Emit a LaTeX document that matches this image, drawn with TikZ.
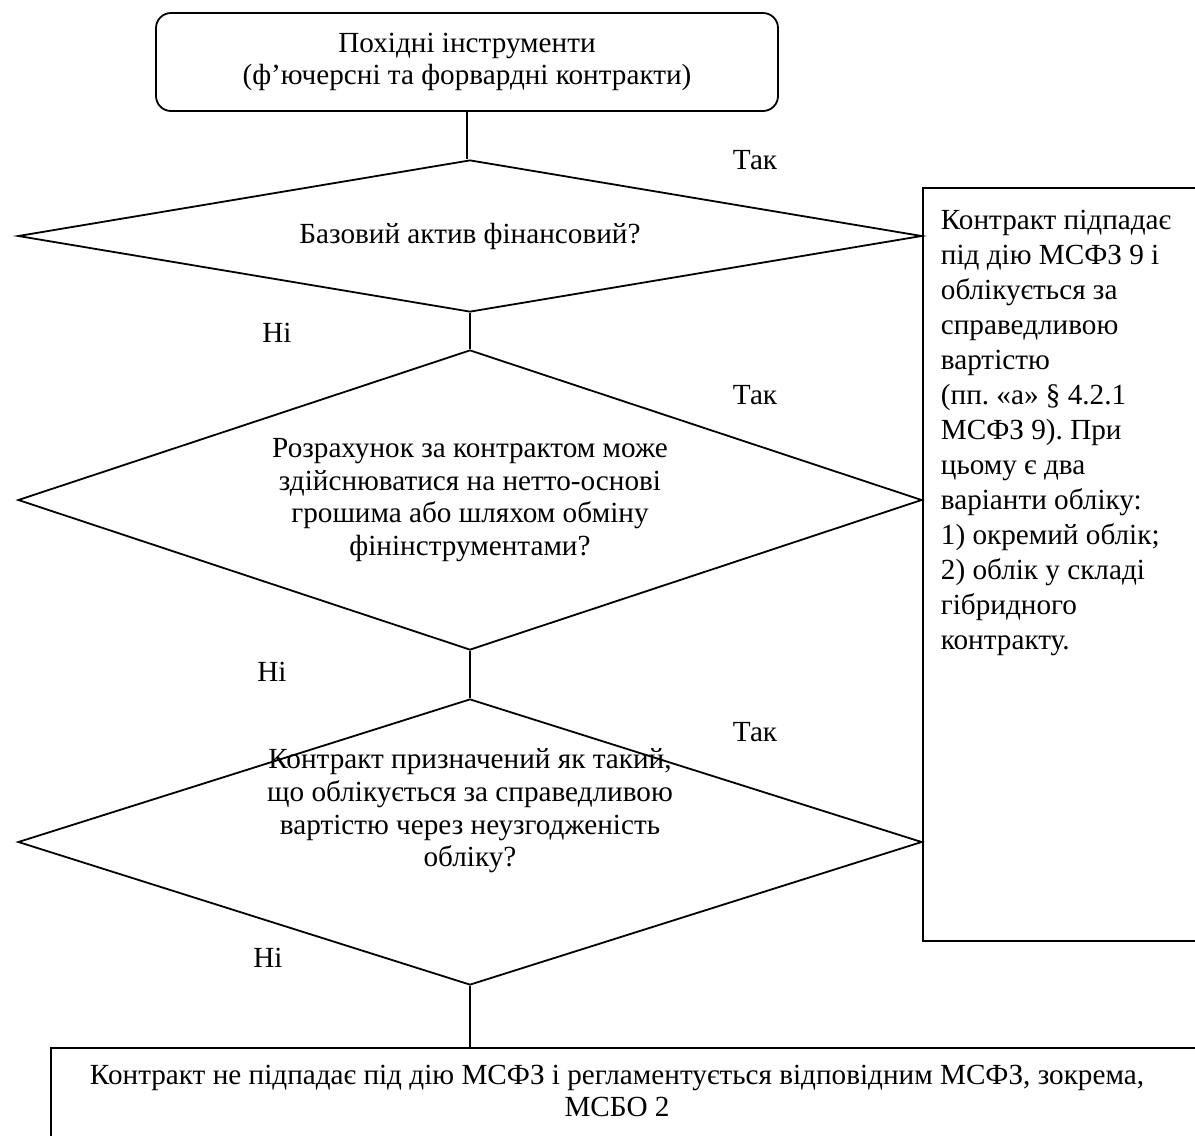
\documentclass[tikz,border=0pt]{standalone}
\usepackage{fontspec}
\setmainfont{Liberation Serif}
\usetikzlibrary{positioning,shapes.geometric}
\frenchspacing

\begin{document}
\begin{tikzpicture}[x=0.5pt, y=-0.5pt,
    txt/.style={font=\fontsize{14.6}{16.3}\selectfont},
    start/.style={rectangle, draw, line width=0.9pt, rounded corners=7.5pt, minimum width=311pt, minimum height=49pt, align=center, txt},
    decision/.style={diamond, draw, line width=0.9pt, inner sep=0pt, align=center, txt},
    result/.style={rectangle, draw, line width=0.9pt, align=flush left, font=\fontsize{14.6}{17.5}\selectfont},
    answer/.style={inner sep=0pt, txt},
    line/.style={draw, line width=0.9pt}
]
\useasboundingbox (0,0) rectangle (1195,1136);
\clip (0,0) rectangle (1195,1136);

% Start and decisions
\node[start] (instr) at (467,62) {Похідні інструменти\\(ф’ючерсні та форвардні контракти)};
\node[decision, minimum width=452pt, minimum height=76pt, shape aspect=6] (fin) at (470,236) {Базовий актив фінансовий?};
\node[decision, minimum width=452pt, minimum height=150pt, shape aspect=2.8] (netto) at (470,500) {Розрахунок за контрактом може\\здійснюватися на нетто-основі\\грошима або шляхом обміну\\фінінструментами?};
\node[decision, minimum width=452pt, minimum height=143pt] (fv) at (470,842) {};
\node[answer, align=center] (fvtxt) at (470,811) {Контракт призначений як такий,\\що облікується за справедливою\\вартістю через неузгодженість\\обліку?};

% Results
\node[result, anchor=north west, inner xsep=9pt, inner ysep=11pt, text width=150pt, text height=10pt, text depth=344.5pt] (ifrs) at (922,187) {Контракт підпадає\\під дію МСФЗ 9 і\\облікується за\\справедливою\\вартістю\\(пп. «а» § 4.2.1\\МСФЗ 9). При\\цьому є два\\варіанти обліку:\\1) окремий облік;\\2) облік у складі\\гібридного\\контракту.};
\node[rectangle, draw, line width=0.9pt, anchor=north west, minimum width=600pt, minimum height=60pt] (other) at (50,1047) {};
\node[answer, align=center] (othertxt) at (617,1091) {Контракт не підпадає під дію МСФЗ і регламентується відповідним МСФЗ, зокрема,\\МСБО 2};

% Connectors
\path[line] (instr.south) -- (instr.south |- fin.north);
\path[line] (fin.south) -- (netto.north);
\path[line] (netto.south) -- (fv.north);
\path[line] (fv.south) -- (fv.south |- other.north);

% Yes / No labels
\node[answer] (yes1) at (755,160) {Так};
\node[answer] (yes2) at (755,395) {Так};
\node[answer] (yes3) at (755,732) {Так};
\node[answer] (no1) at (277,333) {Ні};
\node[answer] (no2) at (272,672) {Ні};
\node[answer] (no3) at (268,958) {Ні};

\end{tikzpicture}
\end{document}
